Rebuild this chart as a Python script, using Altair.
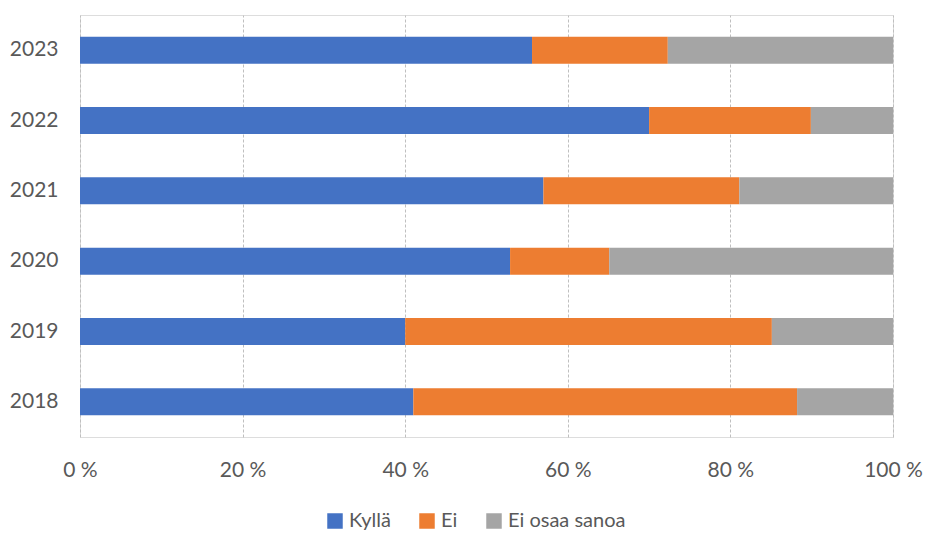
import altair as alt
import pandas as pd

years = ["2023", "2022", "2021", "2020", "2019", "2018"]
categories = ["Kyllä", "Ei", "Ei osaa sanoa"]
kylla = [55.6, 70.0, 57.0, 52.9, 40.0, 41.0]
ei = [16.7, 19.9, 24.1, 12.2, 45.1, 47.2]
eos = [27.7, 10.1, 18.9, 34.9, 14.9, 11.8]
colors = ["#4472C4", "#ED7D31", "#A5A5A5"]

rows = []
for i, y in enumerate(years):
    for j, (c, vals) in enumerate(zip(categories, [kylla, ei, eos])):
        rows.append({"year": y, "cat": c, "value": vals[i], "ord": j})
df = pd.DataFrame(rows)

FONT = "Lato"
GREY = "#595959"

chart = alt.Chart(df).mark_bar(size=27).encode(
    y=alt.Y("year:N", sort=years, title=None,
            axis=alt.Axis(domain=False, ticks=False, labelFontSize=21, labelColor=GREY,
                          labelFont=FONT, labelPadding=22, grid=False)),
    x=alt.X("value:Q", stack="normalize", title=None,
            scale=alt.Scale(domain=[0, 1], nice=False),
            axis=alt.Axis(values=[0, 0.2, 0.4, 0.6, 0.8, 1.0], domain=False, ticks=False,
                          labelExpr="round(datum.value*100) + ' %'",
                          labelFlush=False, labelOverlap=False,
                          labelFontSize=21, labelColor=GREY, labelFont=FONT,
                          labelPadding=22, grid=True, gridDash=[3, 2],
                          gridColor="#BFBFBF", gridWidth=1)),
    color=alt.Color("cat:N", sort=categories,
                    scale=alt.Scale(domain=categories, range=colors),
                    legend=alt.Legend(title=None, orient="none", direction="horizontal",
                                      legendX=245, legendY=496, symbolType="square",
                                      symbolSize=240, symbolStrokeWidth=0,
                                      labelFontSize=20, labelColor=GREY, labelFont=FONT,
                                      labelOffset=4, columnPadding=26)),
    order=alt.Order("ord:Q"),
).properties(
    width=813, height=422,
    padding={"left": 80, "top": 15, "right": 35, "bottom": 97},
    autosize=alt.AutoSizeParams(type="none"),
).configure_view(stroke=None).configure(background="white")

chart.save("out.html", embed_options={"renderer": "svg", "actions": False})
